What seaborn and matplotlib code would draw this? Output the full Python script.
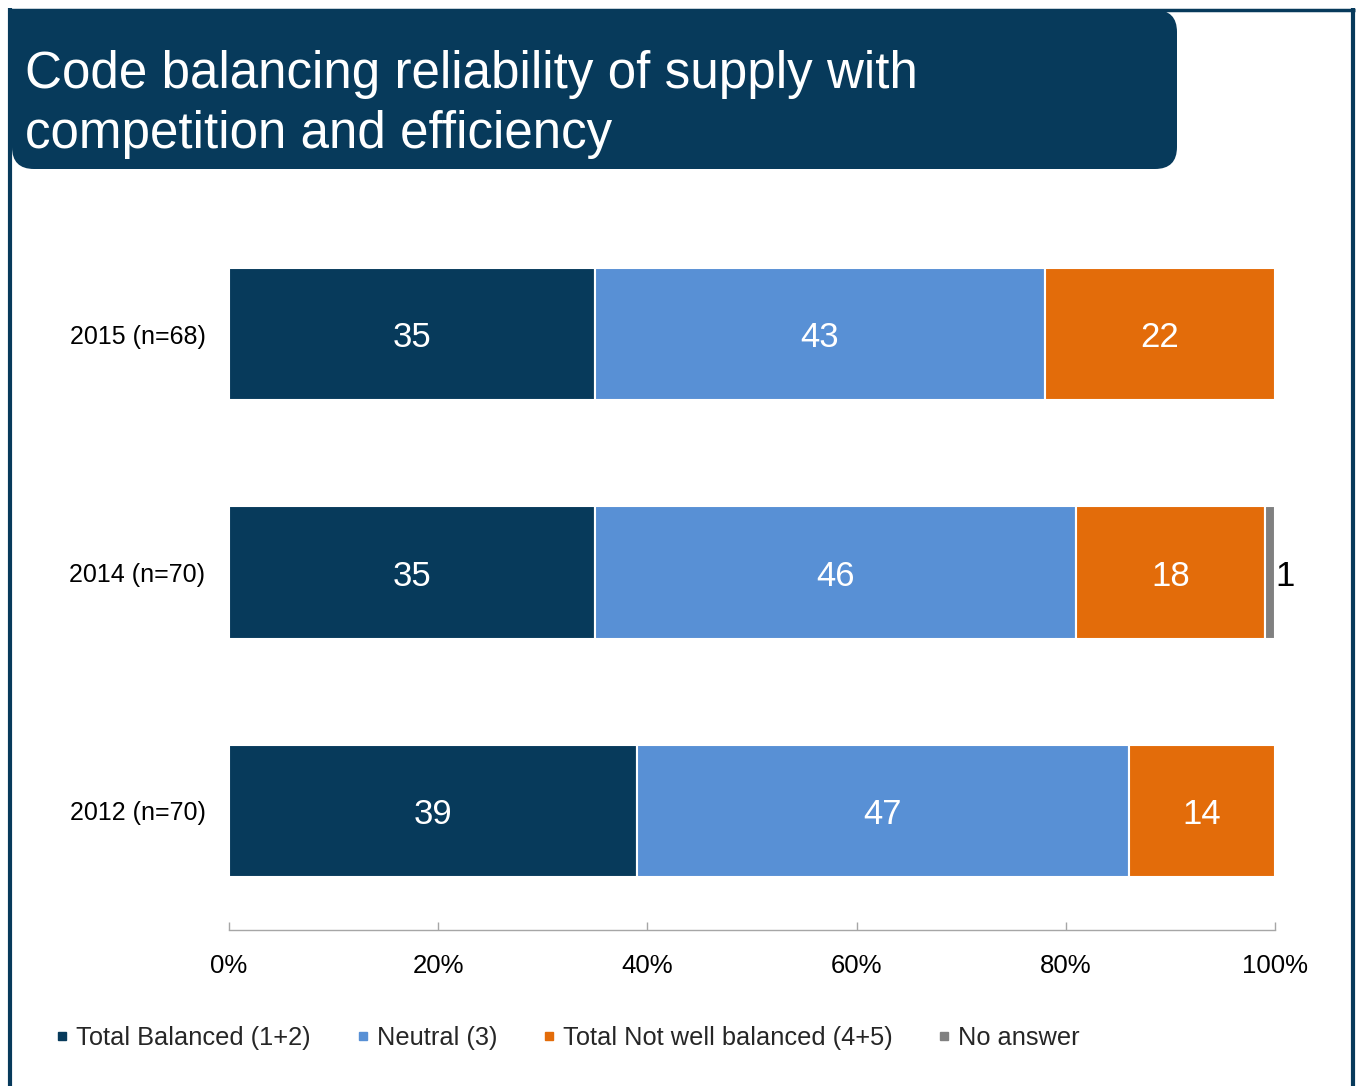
import matplotlib
matplotlib.use("Agg")
import matplotlib.pyplot as plt
from matplotlib.patches import FancyBboxPatch, Rectangle
from matplotlib.lines import Line2D
import seaborn as sns
import pandas as pd
import numpy as np

# ---- data ----
years = ["2015 (n=68)", "2014 (n=70)", "2012 (n=70)"]
balanced = [35, 35, 39]
neutral = [43, 46, 47]
not_balanced = [22, 18, 14]
no_answer = [0, 1, 0]
series_names = ["Total Balanced (1+2)", "Neutral (3)", "Total Not well balanced (4+5)", "No answer"]
series_colors = ["#073A5B", "#5890D5", "#E36C0A", "#808080"]
xticks = [0, 20, 40, 60, 80, 100]
xtick_labels = ["0%", "20%", "40%", "60%", "80%", "100%"]
title_lines = ["Code balancing reliability of supply with", "competition and efficiency"]

sns.set_style("white")
plt.rcParams["font.family"] = ["Liberation Sans", "DejaVu Sans"]

W, H = 1359, 1086
fig = plt.figure(figsize=(W / 100, H / 100), dpi=100)

# background / frame axes in pixel coordinates
bg = fig.add_axes([0, 0, 1, 1], zorder=0)
bg.set_xlim(0, W)
bg.set_ylim(H, 0)
bg.axis("off")
dark = "#073A5B"
bg.plot([10, 10], [8, H], color=dark, lw=3, solid_capstyle="butt")
bg.plot([8, 1355], [9.5, 9.5], color=dark, lw=2.5, solid_capstyle="butt")
bg.plot([1353, 1353], [8, H], color=dark, lw=3, solid_capstyle="butt")
bg.add_patch(FancyBboxPatch((12, 10), 1165, 159, boxstyle="round,pad=0,rounding_size=22",
                            fc=dark, ec="none"))
bg.add_patch(Rectangle((12, 10), 50, 50, fc=dark, ec="none"))
bg.text(25, 88, title_lines[0], color="white", fontsize=36.8, va="baseline", ha="left")
bg.text(25, 148, title_lines[1], color="white", fontsize=36.8, va="baseline", ha="left")

# main chart
ax = fig.add_axes([229 / W, 1 - 930 / H, (1275 - 229) / W, (930 - 215) / H], zorder=1)
ax.set_facecolor("none")

series_vals = [balanced, neutral, not_balanced, no_answer]
rows = []
cum = np.zeros(len(years))
for name, vals in zip(series_names, series_vals):
    for i, y in enumerate(years):
        rows.append({"year": y, "series": name, "value": vals[i], "left": cum[i]})
    cum = cum + np.array(vals)
df = pd.DataFrame(rows)

for name, col in zip(series_names, series_colors):
    sub = df[(df.series == name) & (df.value > 0)]
    sns.barplot(data=sub, x="value", y="year", order=years, orient="h", color=col,
                saturation=1, width=0.555, edgecolor="white", linewidth=1.5,
                errorbar=None, left=sub["left"].values, ax=ax)
    for _, r in sub.iterrows():
        yi = years.index(r["year"])
        if name == "No answer":
            ax.annotate(f"{r['value']:g}", (r["left"] + r["value"], yi), xytext=(0.5, 0),
                        textcoords="offset points", ha="left", va="center_baseline",
                        fontsize=25, color="black")
        else:
            ax.text(r["left"] + r["value"] / 2, yi, f"{r['value']:g}", ha="center",
                    va="center_baseline", fontsize=25, color="white")

ax.set_xlim(0, 100)
ax.set_ylim(2.5, -0.5)
ax.set_xticks(xticks)
ax.set_xticklabels(xtick_labels)
ax.set_xlabel("")
ax.set_ylabel("")
for s in ["top", "right", "left"]:
    ax.spines[s].set_visible(False)
ax.spines["bottom"].set_color("#A6A6A6")
ax.spines["bottom"].set_linewidth(1.0)
ax.tick_params(axis="x", direction="in", length=6, width=1, color="#A6A6A6",
               pad=17.5, labelsize=18.5, labelcolor="black", bottom=True)
ax.tick_params(axis="y", length=0, pad=17, labelsize=18, labelcolor="black")

handles = [Line2D([0], [0], marker="s", linestyle="none", markersize=6,
                  markerfacecolor=c, markeredgecolor=c) for c in series_colors]
fig.legend(handles, series_names, loc="center left", bbox_to_anchor=(56 / W, 1 - 1038 / H),
           ncol=4, frameon=False, fontsize=18.3, handlelength=0.5, handletextpad=0.3,
           columnspacing=1.78, borderpad=0, borderaxespad=0)

fig.savefig("out.png", dpi=100)
